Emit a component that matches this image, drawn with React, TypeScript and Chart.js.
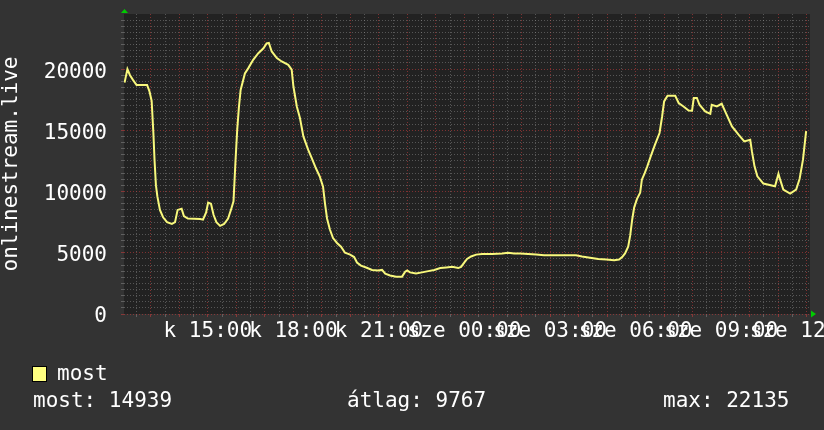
import React, { useEffect, useRef } from "react";
import { Chart, registerables } from "chart.js";

Chart.register(...registerables);

// time in hours since midnight of the first day (24 = 00:00 next day)
const hours = [
  12.08, 12.18, 12.27, 12.38, 12.5, 12.87, 12.95, 13.03, 13.09, 13.13, 13.18, 13.23, 13.32, 13.43, 13.57,
  13.74, 13.85, 13.94, 14.08, 14.16, 14.3, 14.73, 14.83, 14.94, 15.01, 15.11, 15.2, 15.3, 15.43, 15.57,
  15.71, 15.81, 15.9, 15.97, 16.03, 16.09, 16.15, 16.3, 16.42, 16.59, 16.77, 16.95, 17.06, 17.14, 17.24,
  17.42, 17.59, 17.82, 17.94, 18.0, 18.12, 18.23, 18.35, 18.52, 18.64, 18.79, 18.93, 19.04, 19.11, 19.18,
  19.28, 19.39, 19.53, 19.67, 19.81, 19.99, 20.13, 20.23, 20.37, 20.55, 20.76, 20.97, 21.11, 21.22, 21.39,
  21.6, 21.81, 21.92, 21.99, 22.09, 22.3, 22.51, 22.73, 22.94, 23.15, 23.36, 23.57, 23.78, 23.88, 23.99,
  24.09, 24.23, 24.41, 24.62, 24.97, 25.32, 25.53, 25.74, 25.95, 26.23, 26.51, 26.79, 27.07, 27.35, 27.63,
  27.91, 28.12, 28.4, 28.69, 28.97, 29.25, 29.42, 29.53, 29.63, 29.74, 29.81, 29.88, 29.95, 30.05, 30.16,
  30.22, 30.32, 30.41, 30.53, 30.68, 30.84, 30.93, 31.0, 31.12, 31.39, 31.51, 31.68, 31.86, 31.98, 32.04,
  32.15, 32.24, 32.44, 32.62, 32.67, 32.85, 33.02, 33.14, 33.38, 33.61, 33.81, 34.02, 34.08, 34.17, 34.27,
  34.48, 34.89, 35.01, 35.07, 35.18, 35.42, 35.63, 35.75, 35.87, 35.98,
];

const values = [
  18900, 20000, 19500, 19100, 18700, 18700, 18200, 17400, 14800, 12600, 10500, 9600, 8500, 7900, 7500,
  7350, 7500, 8500, 8600, 8000, 7800, 7750, 7700, 8300, 9100, 9000, 8100, 7500, 7200, 7350,
  7800, 8500, 9200, 12500, 15050, 16900, 18300, 19650, 20080, 20760, 21300, 21700, 22100, 22135, 21440,
  20900, 20620, 20350, 19950, 18600, 16950, 16000, 14500, 13400, 12750, 11900, 11200, 10400, 9000, 7800,
  6900, 6200, 5800, 5500, 5000, 4850, 4650, 4200, 3950, 3800, 3600, 3550, 3600, 3300, 3150,
  3050, 3050, 3450, 3550, 3400, 3300, 3400, 3500, 3600, 3750, 3800, 3850, 3750, 3850, 4200,
  4500, 4700, 4850, 4900, 4900, 4950, 5000, 4950, 4950, 4900, 4850, 4800, 4800, 4800, 4800,
  4800, 4700, 4600, 4500, 4450, 4400, 4450, 4650, 4950, 5500, 6400, 7700, 8700, 9400, 9900,
  10970, 11500, 12060, 12870, 13830, 14780, 16130, 17360, 17820, 17820, 17230, 16950, 16620, 16600, 17640,
  17640, 17090, 16540, 16350, 17090, 16950, 17170, 16540, 15320, 14640, 14100, 14230, 13280, 12060, 11240,
  10650, 10430, 11460, 10970, 10160, 9830, 10160, 11030, 12600, 14939,
];

const seriesLabel = "most";
const statLabels = ["most: 14939", "átlag: 9767", "max: 22135"];
const yAxisTitle = "onlinestream.live";
const dayNames = ["k", "sze"];

const xMin = 12.06;
const xMax = 36.116;
const xMinorStep = 0.5;
const xLabelEvery = 3;
const yMin = 0;
const yMax = 24500;
const yMinorStep = 500;
const yMajorStep = 5000;

const FONT = "'DejaVu Sans Mono', monospace";
const LINE_COLOR = "#f8f87c";
const MINOR_GRID = "rgba(150,150,150,0.45)";
const MAJOR_GRID = "rgba(190,60,60,0.6)";

function xTickLabel(v: number): string {
  if (Math.abs(v % xLabelEvery) > 1e-9) return "";
  const day = v < 24 ? dayNames[0] : dayNames[1];
  const hh = Math.round(v % 24);
  return `${day} ${String(hh).padStart(2, "0")}:00`;
}

const backgroundPlugin = {
  id: "rrdBackground",
  beforeDraw(chart: any) {
    const { ctx, chartArea, width, height } = chart;
    ctx.save();
    ctx.fillStyle = "#333333";
    ctx.fillRect(0, 0, width, height);
    ctx.fillStyle = "#222222";
    ctx.fillRect(chartArea.left, chartArea.top, chartArea.right - chartArea.left, chartArea.bottom - chartArea.top);
    ctx.restore();
  },
};

const arrowsPlugin = {
  id: "rrdArrows",
  afterDraw(chart: any) {
    const { ctx, chartArea } = chart;
    ctx.save();
    ctx.fillStyle = "#00cc00";
    const l = chartArea.left;
    const t = chartArea.top;
    ctx.beginPath();
    ctx.moveTo(l + 0.5, t - 5);
    ctx.lineTo(l - 3, t - 1);
    ctx.lineTo(l + 4, t - 1);
    ctx.closePath();
    ctx.fill();
    const r = chartArea.right;
    const b = chartArea.bottom;
    ctx.beginPath();
    ctx.moveTo(r + 1, b - 3.5);
    ctx.lineTo(r + 6, b);
    ctx.lineTo(r + 1, b + 3.5);
    ctx.closePath();
    ctx.fill();
    ctx.restore();
  },
};

const legendPlugin = {
  id: "rrdLegend",
  afterDraw(chart: any) {
    const { ctx } = chart;
    ctx.save();
    ctx.font = `21px ${FONT}`;
    ctx.textBaseline = "middle";
    ctx.textAlign = "left";
    ctx.fillStyle = "#ffff80";
    ctx.fillRect(32, 366, 15, 16);
    ctx.strokeStyle = "#000000";
    ctx.lineWidth = 1;
    ctx.strokeRect(32.5, 366.5, 14, 15);
    ctx.fillStyle = "#ffffff";
    ctx.fillText(seriesLabel, 57, 375);
    const xs = [33, 347, 663];
    statLabels.forEach((s, i) => ctx.fillText(s, xs[i], 402));
    ctx.restore();
  },
};

export default function App() {
  const ref = useRef<HTMLCanvasElement | null>(null);

  useEffect(() => {
    if (!ref.current) return;
    const xTicks: number[] = [];
    for (let v = Math.ceil(xMin / xMinorStep) * xMinorStep; v <= xMax + 1e-9; v += xMinorStep) xTicks.push(v);
    const yTicks: number[] = [];
    for (let v = yMin; v < yMax; v += yMinorStep) yTicks.push(v);

    const chart = new Chart(ref.current, {
      type: "line",
      data: {
        datasets: [
          {
            label: seriesLabel,
            data: hours.map((h, i) => ({ x: h, y: values[i] })),
            borderColor: LINE_COLOR,
            borderWidth: 2,
            pointRadius: 0,
            tension: 0,
            fill: false,
          },
        ],
      },
      options: {
        animation: false,
        responsive: false,
        devicePixelRatio: 1,
        layout: { padding: { left: 0, right: 14, top: 14, bottom: 80 } },
        plugins: { legend: { display: false }, tooltip: { enabled: false } },
        scales: {
          x: {
            type: "linear",
            min: xMin,
            max: xMax,
            afterBuildTicks: (s: any) => {
              s.ticks = xTicks.map((v) => ({ value: v }));
            },
            afterFit: (s: any) => {
              s.height = 36;
              s.paddingLeft = 0;
              s.paddingRight = 0;
            },
            grid: {
              color: (c: any) => (Number.isInteger(c.tick?.value) ? MAJOR_GRID : MINOR_GRID),
              lineWidth: 1,
              drawTicks: true,
              tickLength: 3,
            },
            border: { display: false, dash: [1, 2] },
            ticks: {
              autoSkip: false,
              maxRotation: 0,
              minRotation: 0,
              padding: 2,
              color: "#ffffff",
              font: { family: FONT, size: 21 },
              callback: (v: any) => xTickLabel(Number(v)),
            },
          },
          y: {
            type: "linear",
            min: yMin,
            max: yMax,
            afterBuildTicks: (s: any) => {
              s.ticks = yTicks.map((v) => ({ value: v }));
            },
            afterFit: (s: any) => {
              s.width = 124;
              s.paddingTop = 0;
              s.paddingBottom = 0;
            },
            title: {
              display: true,
              text: yAxisTitle,
              color: "#ffffff",
              font: { family: FONT, size: 21, lineHeight: 1.1 },
              padding: 0,
            },
            grid: {
              color: (c: any) => ((c.tick?.value ?? 0) % yMajorStep === 0 ? MAJOR_GRID : MINOR_GRID),
              lineWidth: 1,
              drawTicks: true,
              tickLength: 3,
            },
            border: { display: false, dash: [1, 2] },
            ticks: {
              autoSkip: false,
              padding: 14,
              labelOffset: 3,
              color: "#ffffff",
              font: { family: FONT, size: 21 },
              callback: (v: any) => (Number(v) % yMajorStep === 0 ? String(v) : ""),
            },
          },
        },
      },
      plugins: [backgroundPlugin, arrowsPlugin, legendPlugin],
    });
    return () => chart.destroy();
  }, []);

  return (
    <div style={{ position: "absolute", left: 0, top: 0, width: 824, height: 430, background: "#333333" }}>
      <canvas ref={ref} width={824} height={430} style={{ display: "block" }} />
    </div>
  );
}
